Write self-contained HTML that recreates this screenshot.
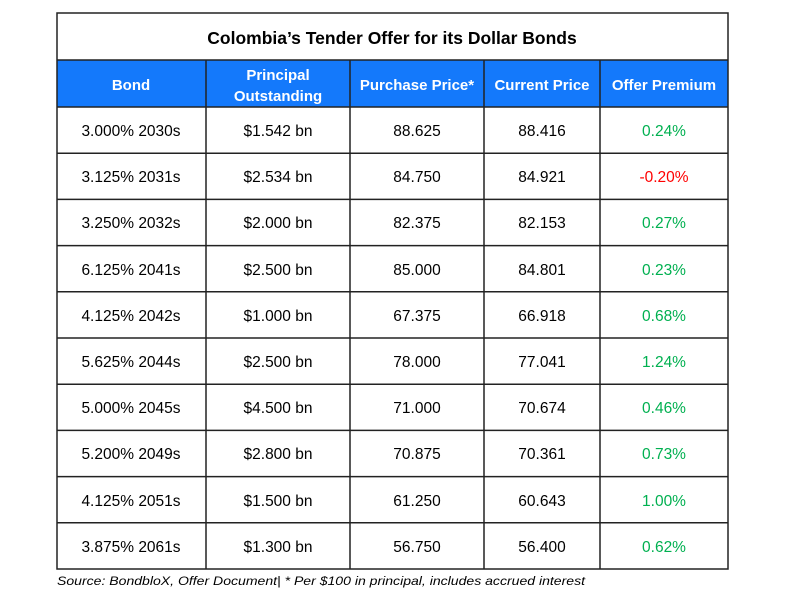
<!DOCTYPE html>
<html><head><meta charset="utf-8"><style>
body{margin:0;background:#fff;}
text{font-family:"Liberation Sans",sans-serif;}
</style></head><body>
<svg width="789" height="589" xmlns="http://www.w3.org/2000/svg">
<rect x="0" y="0" width="789" height="589" fill="#fff"/>
<rect x="57" y="60" width="671" height="47" fill="#1479FB"/>
<g stroke="#222" stroke-width="1.5" fill="none">
<rect x="57" y="13" width="671" height="556"/>
<line x1="57" y1="60" x2="728" y2="60"/>
<line x1="57" y1="107" x2="728" y2="107"/>
<line x1="57" y1="153.2" x2="728" y2="153.2"/>
<line x1="57" y1="199.4" x2="728" y2="199.4"/>
<line x1="57" y1="245.6" x2="728" y2="245.6"/>
<line x1="57" y1="291.8" x2="728" y2="291.8"/>
<line x1="57" y1="338" x2="728" y2="338"/>
<line x1="57" y1="384.2" x2="728" y2="384.2"/>
<line x1="57" y1="430.4" x2="728" y2="430.4"/>
<line x1="57" y1="476.6" x2="728" y2="476.6"/>
<line x1="57" y1="522.8" x2="728" y2="522.8"/>
<line x1="206" y1="60" x2="206" y2="569"/>
<line x1="350" y1="60" x2="350" y2="569"/>
<line x1="484" y1="60" x2="484" y2="569"/>
<line x1="600" y1="60" x2="600" y2="569"/>
</g>
<text x="392" y="44" font-size="17.5" font-weight="bold" text-anchor="middle" fill="#000">Colombia’s Tender Offer for its Dollar Bonds</text>
<g font-size="15" font-weight="bold" fill="#fff" text-anchor="middle">
<text x="131" y="90">Bond</text>
<text x="278" y="80">Principal</text>
<text x="278" y="101">Outstanding</text>
<text x="417" y="90">Purchase Price*</text>
<text x="542" y="90">Current Price</text>
<text x="664" y="90">Offer Premium</text>
</g>
<g font-size="15.5" fill="#000" text-anchor="middle">
<text x="131" y="136">3.000% 2030s</text><text x="278" y="136">$1.542 bn</text><text x="417" y="136">88.625</text><text x="542" y="136">88.416</text>
<text x="131" y="182">3.125% 2031s</text><text x="278" y="182">$2.534 bn</text><text x="417" y="182">84.750</text><text x="542" y="182">84.921</text>
<text x="131" y="228">3.250% 2032s</text><text x="278" y="228">$2.000 bn</text><text x="417" y="228">82.375</text><text x="542" y="228">82.153</text>
<text x="131" y="275">6.125% 2041s</text><text x="278" y="275">$2.500 bn</text><text x="417" y="275">85.000</text><text x="542" y="275">84.801</text>
<text x="131" y="321">4.125% 2042s</text><text x="278" y="321">$1.000 bn</text><text x="417" y="321">67.375</text><text x="542" y="321">66.918</text>
<text x="131" y="367">5.625% 2044s</text><text x="278" y="367">$2.500 bn</text><text x="417" y="367">78.000</text><text x="542" y="367">77.041</text>
<text x="131" y="413">5.000% 2045s</text><text x="278" y="413">$4.500 bn</text><text x="417" y="413">71.000</text><text x="542" y="413">70.674</text>
<text x="131" y="459">5.200% 2049s</text><text x="278" y="459">$2.800 bn</text><text x="417" y="459">70.875</text><text x="542" y="459">70.361</text>
<text x="131" y="506">4.125% 2051s</text><text x="278" y="506">$1.500 bn</text><text x="417" y="506">61.250</text><text x="542" y="506">60.643</text>
<text x="131" y="552">3.875% 2061s</text><text x="278" y="552">$1.300 bn</text><text x="417" y="552">56.750</text><text x="542" y="552">56.400</text>
</g>
<g font-size="15.5" fill="#00B050" text-anchor="middle">
<text x="664" y="136">0.24%</text>
<text x="664" y="182" fill="#FF0000">-0.20%</text>
<text x="664" y="228">0.27%</text>
<text x="664" y="275">0.23%</text>
<text x="664" y="321">0.68%</text>
<text x="664" y="367">1.24%</text>
<text x="664" y="413">0.46%</text>
<text x="664" y="459">0.73%</text>
<text x="664" y="506">1.00%</text>
<text x="664" y="552">0.62%</text>
</g>
<text x="57" y="585" font-size="12" font-style="italic" fill="#000" textLength="528" lengthAdjust="spacingAndGlyphs">Source: BondbloX, Offer Document| * Per $100 in principal, includes accrued interest</text>
</svg>
</body></html>
